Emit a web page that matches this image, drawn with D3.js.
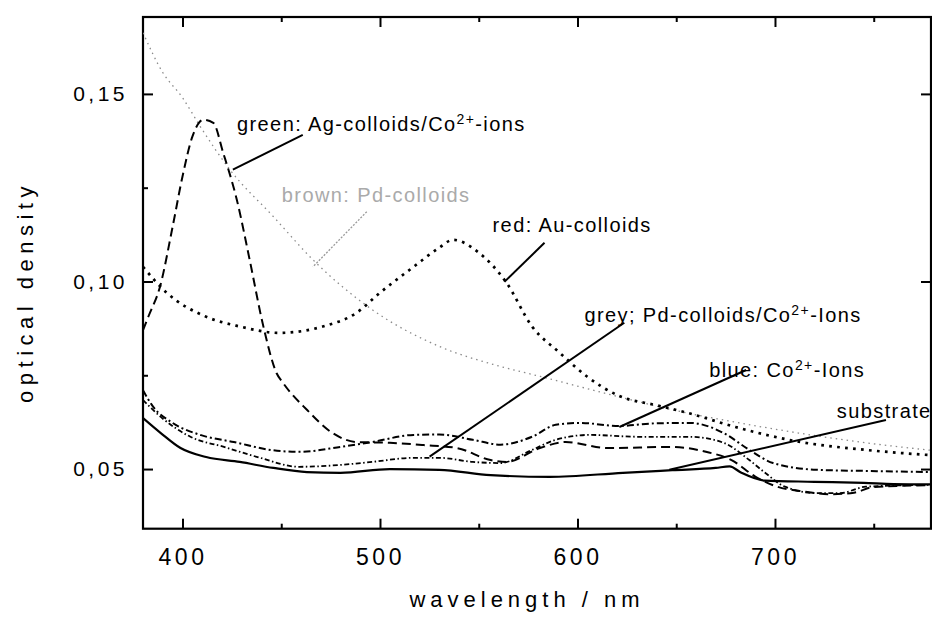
<!DOCTYPE html>
<html><head><meta charset="utf-8">
<script src="https://cdn.jsdelivr.net/npm/d3@7/dist/d3.min.js"></script>
<style>
body{margin:0;background:#fff;}
svg{display:block;}
text{font-family:"Liberation Sans",Arial,Helvetica,sans-serif;}
</style></head><body>
<svg id="c" width="932" height="618"></svg>
<script>
// ---------- data ----------
const brownWl = [380,390,400,409,424,446,466,496,530,560,581,623,648,682,712,746,779];
const brownOD = [0.1663,0.1557,0.149,0.1413,0.1298,0.1173,0.1058,0.0925,0.0827,0.0775,0.0747,0.069,0.0658,0.0623,0.0596,0.057,0.055];

const redWl = [380,392,412,429,449,471,488,500,517,530,537,550,564,577,591,605,621,640,657,680,712,746,779];
const redOD = [0.1039,0.097,0.0906,0.088,0.0863,0.088,0.0916,0.097,0.1039,0.109,0.1111,0.1077,0.0997,0.088,0.081,0.0746,0.0695,0.067,0.0648,0.0612,0.0573,0.0551,0.0537];

const greenWl = [380,383,388.6,395,400,405,410.6,415.6,420.6,427.5,434,441,447.6,451,463,476,488,505,522,539,556,564,581,594,615,648,665,678,690,700,715,728,740,750,779];
const greenOD = [0.087,0.091,0.0986,0.1146,0.128,0.1386,0.1431,0.1423,0.1343,0.1218,0.1058,0.0879,0.0756,0.0729,0.0658,0.0596,0.0572,0.057,0.0564,0.0556,0.0524,0.0519,0.0556,0.0572,0.0556,0.0559,0.0546,0.0524,0.048,0.0455,0.044,0.0433,0.0437,0.0452,0.0457];

const blueWl = [380,385,395,409,426,446,459,480,496,517,530,547,561,577,589,601,621,640,657,674,687,699,721,746,779];
const blueOD = [0.071,0.0667,0.0623,0.0591,0.0572,0.055,0.0546,0.0559,0.0572,0.0591,0.0592,0.0578,0.0565,0.0586,0.0618,0.0623,0.0615,0.0622,0.0623,0.0596,0.0551,0.0516,0.0498,0.0495,0.0492];

const greyWl = [380,389,404,421,438,459,480,496,517,530,547,561,577,589,606,631,657,674,687,695,705,721,733,746,779];
const greyOD = [0.0684,0.0639,0.0586,0.0559,0.0532,0.0506,0.0511,0.0519,0.053,0.053,0.0519,0.0516,0.0551,0.0578,0.0591,0.0586,0.0586,0.057,0.0524,0.049,0.0453,0.0436,0.0436,0.0453,0.0458];

const subWl = [380,389,399,412,429,446,463,480,505,530,556,586,623,648,670,677,683,695,720,745,760,779];
const subOD = [0.0636,0.0596,0.0556,0.0532,0.0519,0.0503,0.0492,0.049,0.05,0.0498,0.0484,0.0479,0.049,0.0497,0.0503,0.0507,0.049,0.0469,0.0466,0.0463,0.046,0.0459];

const xMajor = [400,500,600,700];
const xMinor = [450,550,650,750];
const yMajor = [0.05,0.10,0.15];
const yMinor = [0.075,0.125];
const xTitle = "wavelength / nm";
const yTitle = "optical density";

// ---------- styles ----------
const series = [
  {wl:brownWl, od:brownOD, color:"#8a8a8a", width:1.3, dash:"1.5,4"},
  {wl:redWl,   od:redOD,   color:"#000", width:2.7, dash:"2.7,5.3"},
  {wl:greenWl, od:greenOD, color:"#000", width:2,   dash:"9,5"},
  {wl:blueWl,  od:blueOD,  color:"#000", width:2,   dash:"7,3,2,3"},
  {wl:greyWl,  od:greyOD,  color:"#000", width:1.8, dash:"5,2.5,1.5,2.5"},
  {wl:subWl,   od:subOD,   color:"#000", width:2.2, dash:null}
];

// annotations: text anchor and leader line, in data units
const notes = [
  {t:["green: Ag-colloids/Co","2+","-ions"], at:[427.6,0.1402], from:[460.9,0.1391], to:[425.5,0.1298], color:"#000", lc:"#000", ld:null},
  {t:["brown: Pd-colloids"], at:[450.3,0.1213], from:[493.3,0.1186], to:[466,0.1039], color:"#aaa", lc:"#999", ld:"2,1.5"},
  {t:["red: Au-colloids"], at:[557,0.1132], from:[583.3,0.1103], to:[563,0.0999], color:"#000", lc:"#000", ld:null},
  {t:["grey; Pd-colloids/Co","2+","-Ions"], at:[603.5,0.0892], from:[623.7,0.089], to:[525.1,0.0533], color:"#000", lc:"#000", ld:null},
  {t:["blue: Co","2+","-Ions"], at:[666.7,0.0746], from:[685.4,0.0764], to:[621.2,0.0612], color:"#000", lc:"#000", ld:null},
  {t:["substrate"], at:[731.3,0.0636], from:[756.2,0.0631], to:[646.5,0.0498], color:"#000", lc:"#000", ld:null}
];

// ---------- drawing ----------
const svg = d3.select("#c");
const L=143, R=931, T=17, B=528.7;
const x = d3.scaleLinear().domain([380,779]).range([L,R]);
const y = d3.scaleLinear().domain([0.0341,0.1705]).range([B,T]);

svg.append("defs").append("clipPath").attr("id","clip")
  .append("rect").attr("x",L).attr("y",T).attr("width",R-L).attr("height",B-T);

const fmt = d => d3.format(".2f")(d).replace(".",",");

function styleAxis(g){ g.select(".domain").remove(); g.selectAll("line").attr("stroke","#000").attr("stroke-width",2); }
svg.append("g").attr("transform",`translate(0,${B})`)
  .call(d3.axisBottom(x).tickValues(xMajor).tickSize(-10).tickPadding(20).tickFormat(d3.format("d")))
  .call(styleAxis)
  .selectAll("text").attr("font-size",23).attr("fill","#000").attr("letter-spacing","3.5px")
  .attr("font-family","Liberation Sans, Arial, sans-serif");
svg.append("g").attr("transform",`translate(0,${B})`)
  .call(d3.axisBottom(x).tickValues(xMinor).tickSize(-5).tickFormat("")).call(styleAxis);
svg.append("g").attr("transform",`translate(0,${T})`)
  .call(d3.axisTop(x).tickValues(xMajor).tickSize(-10).tickFormat("")).call(styleAxis);
svg.append("g").attr("transform",`translate(0,${T})`)
  .call(d3.axisTop(x).tickValues(xMinor).tickSize(-5).tickFormat("")).call(styleAxis);
svg.append("g").attr("transform",`translate(${L},0)`)
  .call(d3.axisLeft(y).tickValues(yMajor).tickSize(-10).tickPadding(15).tickFormat(fmt))
  .call(styleAxis)
  .selectAll("text").attr("font-size",21).attr("fill","#000").attr("letter-spacing","3.5px")
  .attr("font-family","Liberation Sans, Arial, sans-serif");
svg.append("g").attr("transform",`translate(${L},0)`)
  .call(d3.axisLeft(y).tickValues(yMinor).tickSize(-5).tickFormat("")).call(styleAxis);
svg.append("g").attr("transform",`translate(${R},0)`)
  .call(d3.axisRight(y).tickValues(yMajor).tickSize(-10).tickFormat("")).call(styleAxis);

svg.append("rect").attr("x",L).attr("y",T).attr("width",R-L).attr("height",B-T)
  .attr("fill","none").attr("stroke","#000").attr("stroke-width",2.2);

const line = d3.line().x(d=>x(d[0])).y(d=>y(d[1])).curve(d3.curveMonotoneX);
const plot = svg.append("g").attr("clip-path","url(#clip)");
series.forEach(s=>{
  const pts = s.wl.map((w,i)=>[w,s.od[i]]);
  plot.append("path").attr("d",line(pts)).attr("fill","none")
    .attr("stroke",s.color).attr("stroke-width",s.width)
    .attr("stroke-dasharray",s.dash).attr("stroke-linejoin","round");
});

notes.forEach(n=>{
  svg.append("line").attr("x1",x(n.from[0])).attr("y1",y(n.from[1]))
    .attr("x2",x(n.to[0])).attr("y2",y(n.to[1]))
    .attr("stroke",n.lc).attr("stroke-width",n.ld?1.3:2).attr("stroke-dasharray",n.ld);
  const t = svg.append("text").attr("x",x(n.at[0])).attr("y",y(n.at[1]))
    .attr("font-size",20).attr("fill",n.color).attr("letter-spacing","1.4px");
  n.t.forEach((p,i)=>{
    if(i===1){ t.append("tspan").attr("font-size",14).attr("dy",-7).text(p); }
    else if(i===2){ t.append("tspan").attr("dy",7).text(p); }
    else t.append("tspan").text(p);
  });
});

svg.append("text").attr("x",527).attr("y",607).attr("text-anchor","middle")
  .attr("font-size",22).attr("letter-spacing","5px").attr("fill","#000").text(xTitle);
svg.append("text").attr("transform","translate(33,292) rotate(-90)").attr("text-anchor","middle")
  .attr("font-size",22).attr("letter-spacing","5.5px").attr("fill","#000").text(yTitle);
</script>
</body></html>
